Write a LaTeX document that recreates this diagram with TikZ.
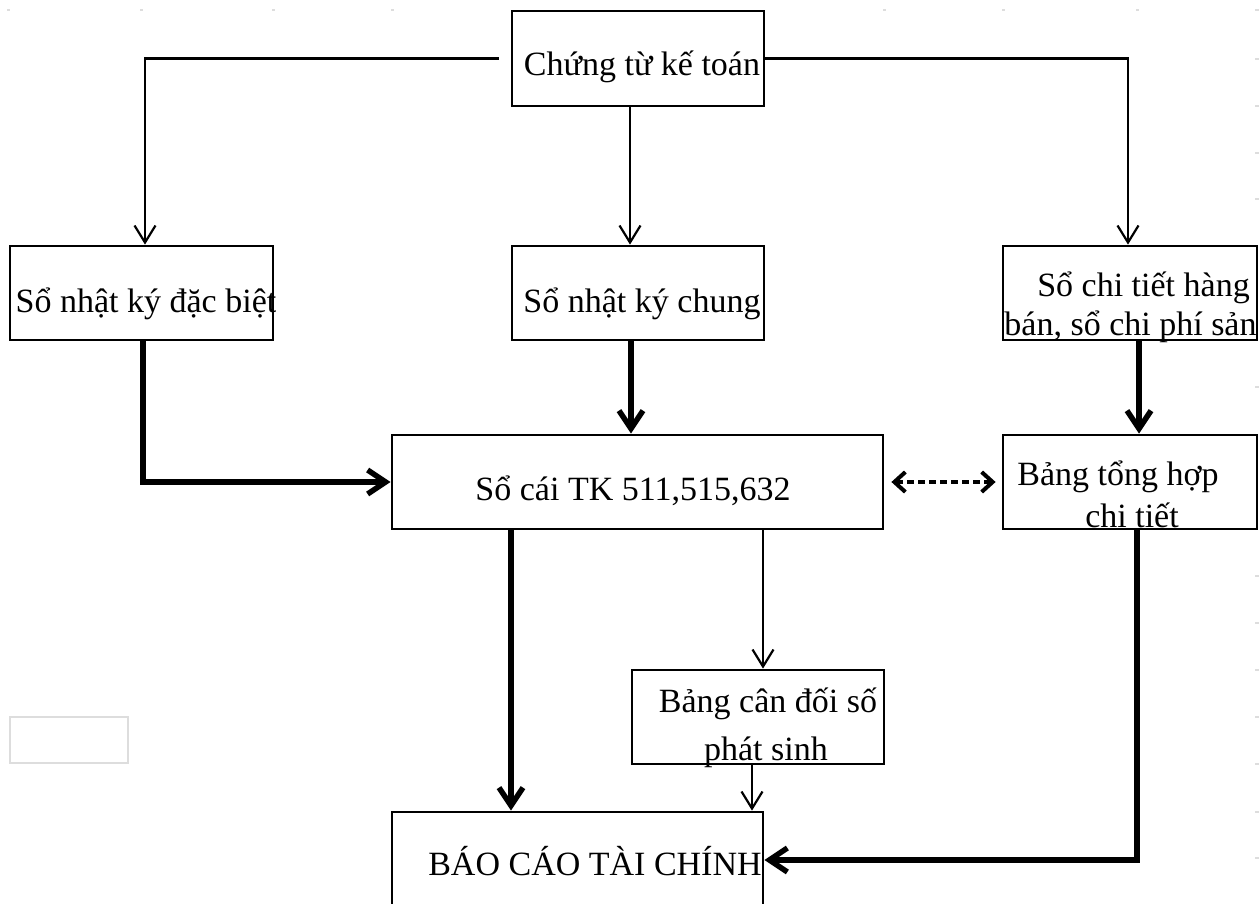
\documentclass[tikz,border=0pt]{standalone}
\usepackage{fontspec}
\setmainfont{Liberation Serif}
\usetikzlibrary{arrows.meta}
\definecolor{faint}{HTML}{DDDDDD}
\begin{document}
\begin{tikzpicture}[x=1pt,y=-1pt,
  box/.style={draw,line width=2.8pt,rectangle,inner sep=0pt,minimum width=#1,minimum height=94pt},
  lbl/.style={anchor=base,inner sep=0pt,font=\fontsize{34}{41}\selectfont},
  thinarrow/.style={line width=2.2pt,-{Straight Barb[length=17pt,width=21pt,line width=2.2pt]}},
  thickarrow/.style={line width=6pt,-{Straight Barb[length=18pt,width=24pt,line width=5.5pt]}},
  linkarrow/.style={line width=4pt,dash pattern=on 7pt off 4pt,
    {Straight Barb[length=11pt,width=20pt,line width=4pt]}-{Straight Barb[length=11pt,width=20pt,line width=4pt]}},
  gridmark/.style={fill=faint,draw=none}]
\useasboundingbox (0,0) rectangle (1260,904);
\fill[white] (0,0) rectangle (1260,904);

% faint canvas marks
\foreach \x in {8,141,273,392,884,1003,1137}
  \fill[gridmark] (\x-1.5,9) rectangle (\x+1.5,11);
\foreach \y in {10,59,106,153,199,387,576,623,670,717,764,812,858}
  \fill[gridmark] (1255,\y-1) rectangle (1259,\y+1);

% boxes
\node[box=252pt,minimum height=95pt] (ctkt) at (638,58.5) {};
\node[box=263pt] (nkdb) at (141.5,293) {};
\node[box=252pt] (nkc)  at (638,293) {};
\node[box=254pt] (sct)  at (1130,293) {};
\node[box=491pt] (socai) at (637.5,482) {};
\node[box=254pt] (bth)  at (1130,482) {};
\node[box=252pt] (bcd)  at (758,717) {};
\node[box=371pt,minimum height=96pt] (bctc) at (577.5,860) {};
\node[draw=faint,line width=2pt,minimum width=118pt,minimum height=46pt,inner sep=0pt] (blank) at (69,740) {};

% labels
\node[lbl] (tctkt) at (642,76) {Chứng từ kế toán};
\node[lbl] (tnkdb) at (146,312) {Sổ nhật ký đặc biệt};
\node[lbl] (tnkc)  at (642,312) {Sổ nhật ký chung};
\node[lbl] (tsct1) at (1143.5,296) {Sổ chi tiết hàng};
\node[lbl] (tsct2) at (1130.5,335) {bán, sổ chi phí sản};
\node[lbl] (tsocai) at (633,500) {Sổ cái TK 511,515,632};
\node[lbl] (tbth1) at (1118,485) {Bảng tổng hợp};
\node[lbl] (tbth2) at (1132,527) {chi tiết};
\node[lbl] (tbcd1) at (768,712) {Bảng cân đối số};
\node[lbl] (tbcd2) at (766,760) {phát sinh};
\node[lbl] (tbctc) at (595,875) {BÁO CÁO TÀI CHÍNH};

% thin connectors from the source documents
\draw[thinarrow] ([xshift=-12]ctkt.west) -| ([xshift=3.5]nkdb.north);
\draw[thinarrow] (ctkt.east) -| ([xshift=-2]sct.north);
\draw[thinarrow] ([xshift=-8]ctkt.south) -- ([xshift=-8]nkc.north);

% thick connectors into the ledger and detail summary
\draw[thickarrow] ([xshift=1.5]nkdb.south) |- (socai.west);
\draw[thickarrow] ([xshift=-7]nkc.south) -- ([xshift=-6.5]socai.north);
\draw[thickarrow] ([xshift=9]sct.south) -- ([xshift=9]bth.north);

% reconciliation link
\draw[linkarrow] ([xshift=7]socai.east) -- ([xshift=-6]bth.west);

% into the financial statements
\draw[thickarrow] ([xshift=-126.5]socai.south) -- ([xshift=-66.5]bctc.north);
\draw[thinarrow] ([xshift=125.5]socai.south) -- ([xshift=5]bcd.north);
\draw[thinarrow] ([xshift=-6]bcd.south) -- ([xshift=174.5]bctc.north);
\draw[thickarrow] ([xshift=7]bth.south) |- (bctc.east);
\end{tikzpicture}
\end{document}
